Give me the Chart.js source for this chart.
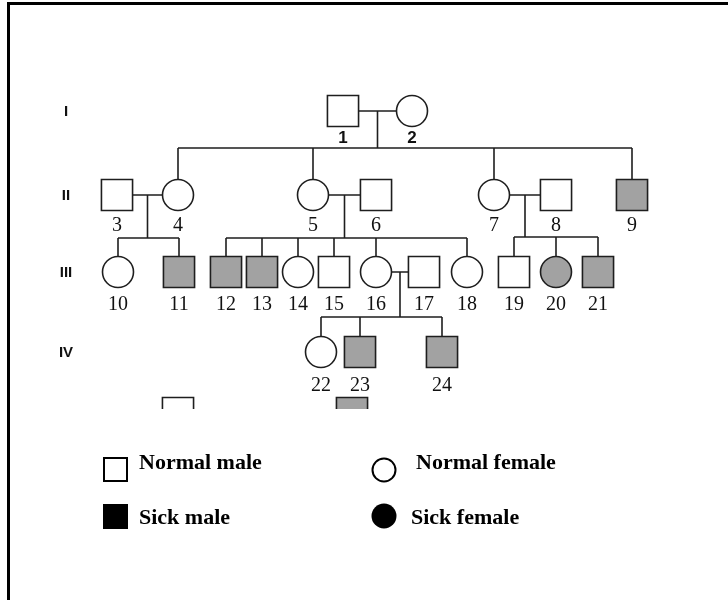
<!DOCTYPE html>
<html>
<head>
<meta charset="utf-8">
<script src="https://cdn.jsdelivr.net/npm/chart.js@4/dist/chart.umd.min.js"></script>
<style>
  body { margin: 0; background: #fff; }
  #wrap { width: 728px; height: 600px; }
</style>
</head>
<body>
<div id="wrap"><canvas id="graph" width="728" height="600"></canvas></div>
<script>
// pedigree data
const ids = [1, 2, 3, 4, 5, 6, 7, 8, 9, 10, 11, 12, 13, 14, 15, 16, 17, 18, 19, 20, 21, 22, 23, 24];
const xPos = [343, 412, 117, 178, 313, 376, 494, 556, 632, 118, 179, 226, 262, 298, 334, 376, 424, 467, 514, 556, 598, 321, 360, 442];
const gen = [1, 1, 2, 2, 2, 2, 2, 2, 2, 3, 3, 3, 3, 3, 3, 3, 3, 3, 3, 3, 3, 4, 4, 4];
const sex = ["M", "F", "M", "F", "F", "M", "F", "M", "M", "F", "M", "M", "M", "F", "M", "F", "M", "F", "M", "F", "M", "F", "M", "M"];
const affected = [0, 0, 0, 0, 0, 0, 0, 0, 1, 0, 1, 1, 1, 0, 0, 0, 0, 0, 0, 1, 1, 0, 1, 1];

const genLabels = ["I", "II", "III", "IV"];
const rowY = [111, 195, 272, 352, 413];

const couples = [[1, 2], [3, 4], [5, 6], [7, 8], [16, 17]];
const children = [[4, 5, 7, 9], [10, 11], [12, 13, 14, 15, 16, 18], [19, 20, 21], [22, 23, 24]];
const sibY = [148, 238, 238, 237, 317];

// individuals cut off at the bottom edge of the scan
const cutX = [178, 352];
const cutAffected = [0, 1];

const legendItems = ["Normal male", "Normal female", "Sick male", "Sick female"];

const SICK = "#a2a2a2";
const INK = "#1e1e1e";

const idx = (id) => ids.indexOf(id);
const pt = (id) => ({ x: xPos[idx(id)], y: rowY[gen[idx(id)] - 1] });

// connecting lines, built from the families
const lines = [];
const gap = { x: null, y: null };
couples.forEach((c, f) => {
  const a = pt(c[0]);
  const b = pt(c[1]);
  const mid = (a.x + b.x) / 2;
  lines.push(a, b, gap);
  lines.push({ x: mid, y: a.y }, { x: mid, y: sibY[f] }, gap);
  const kids = children[f].map(pt);
  const xs = kids.map((k) => k.x);
  lines.push({ x: Math.min(...xs), y: sibY[f] }, { x: Math.max(...xs), y: sibY[f] }, gap);
  kids.forEach((k) => lines.push({ x: k.x, y: sibY[f] }, k, gap));
});

const males = ids.filter((id, i) => sex[i] === "M").map((id) => ({ ...pt(id), id }));
const females = ids.filter((id, i) => sex[i] === "F").map((id) => ({ ...pt(id), id }));
const cut = cutX.map((x, i) => ({ x, y: rowY[4], sick: cutAffected[i] }));

const fillFor = (ctx) => {
  const raw = ctx.raw;
  if (!raw) return "#fff";
  if (raw.id) return affected[idx(raw.id)] ? SICK : "#fff";
  return raw.sick ? SICK : "#fff";
};

const labelsPlugin = {
  id: "labels",
  afterDatasetsDraw(chart) {
    const { ctx, scales } = chart;
    const x = scales.x, y = scales.y;
    ctx.save();
    ctx.fillStyle = "#111";
    ctx.textAlign = "center";
    ctx.textBaseline = "middle";
    // numbers under each person
    const offs = [27, 31, 33, 34];
    ids.forEach((id, i) => {
      const g = gen[i];
      if (g === 1) ctx.font = "bold 17px 'Liberation Sans', Arial, sans-serif";
      else ctx.font = "20px 'Liberation Serif', 'Times New Roman', serif";
      ctx.fillText(String(id), x.getPixelForValue(xPos[i]), y.getPixelForValue(rowY[g - 1]) + offs[g - 1]);
    });
    // generation numerals
    ctx.font = "bold 15px 'Liberation Sans Narrow', 'Liberation Sans', Arial, sans-serif";
    genLabels.forEach((t, g) => {
      ctx.fillText(t, 66, y.getPixelForValue(rowY[g]) + 1);
    });
    ctx.restore();
  },
  afterDraw(chart) {
    const { ctx } = chart;
    ctx.save();
    // frame
    ctx.fillStyle = "#000";
    ctx.fillRect(7, 2, 721, 3);
    ctx.fillRect(7, 2, 3, 598);
    // legend
    ctx.strokeStyle = "#000";
    ctx.lineWidth = 2;
    ctx.fillStyle = "#000";
    ctx.strokeRect(104, 458, 23, 23);
    ctx.fillRect(103, 504, 25, 25);
    ctx.beginPath();
    ctx.arc(384, 470, 11.5, 0, Math.PI * 2);
    ctx.stroke();
    ctx.beginPath();
    ctx.arc(384, 516, 12.5, 0, Math.PI * 2);
    ctx.fill();
    ctx.font = "bold 22px 'Liberation Serif', 'Times New Roman', serif";
    ctx.textAlign = "left";
    ctx.textBaseline = "middle";
    ctx.fillText(legendItems[0], 139, 463);
    ctx.fillText(legendItems[1], 416, 463);
    ctx.fillText(legendItems[2], 139, 518);
    ctx.fillText(legendItems[3], 411, 518);
    ctx.restore();
  },
};

const graph = document.getElementById("graph").getContext("2d");

const myChart = new Chart(graph, {
  type: "scatter",
  data: {
    datasets: [
      {
        label: "Males",
        data: males,
        pointStyle: "rect",
        pointRadius: 22,
        pointBorderWidth: 1.6,
        pointBorderColor: INK,
        pointBackgroundColor: fillFor,
        order: 1,
      },
      {
        label: "Females",
        data: females,
        pointStyle: "circle",
        pointRadius: 15.5,
        pointBorderWidth: 1.6,
        pointBorderColor: INK,
        pointBackgroundColor: fillFor,
        order: 1,
      },
      {
        label: "Cut off",
        data: cut,
        pointStyle: "rect",
        pointRadius: 22,
        pointBorderWidth: 1.6,
        pointBorderColor: INK,
        pointBackgroundColor: fillFor,
        clip: { left: 0, top: 0, right: 0, bottom: -191 },
        order: 1,
      },
      {
        label: "Lines",
        type: "line",
        data: lines,
        showLine: true,
        spanGaps: false,
        borderColor: INK,
        borderWidth: 1.6,
        pointRadius: 0,
        order: 3,
      },
    ],
  },
  options: {
    responsive: false,
    animation: false,
    events: [],
    layout: { padding: 0, autoPadding: false },
    scales: {
      x: { type: "linear", min: 0, max: 728, display: false },
      y: { type: "linear", min: 0, max: 600, reverse: true, display: false },
    },
    plugins: {
      legend: { display: false },
      tooltip: { enabled: false },
    },
  },
  plugins: [labelsPlugin],
});
</script>
</body>
</html>
